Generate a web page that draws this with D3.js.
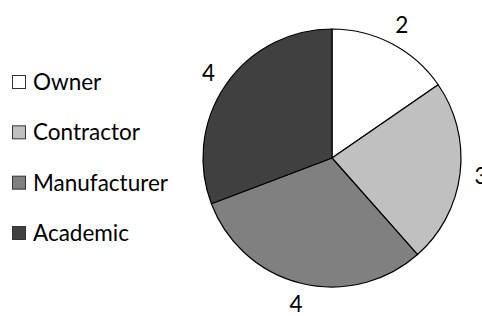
<!DOCTYPE html>
<html>
<head>
<meta charset="utf-8">
<script src="https://cdn.jsdelivr.net/npm/d3@7"></script>
<style>
  html, body { margin: 0; padding: 0; background: #fff; }
  svg { display: block; font-family: Lato, 'Open Sans', sans-serif; }
</style>
</head>
<body>
<svg class="pie" width="482" height="316"></svg>
<script>
// chart data
const categories = ['Owner', 'Contractor', 'Manufacturer', 'Academic'];
const values = [2, 3, 4, 4];
const shades = ['#ffffff', '#c0c0c0', '#808080', '#404040'];

const data = categories.map((c, i) => ({ name: c, value: values[i] }));

const svg = d3.select('.pie');

const cx = 332;
const cy = 158;
const radius = 129;

const color = d3.scaleOrdinal()
    .domain(categories)
    .range(shades);

const pie = d3.pie()
    .sort(null)
    .value(d => d.value);

const arc = d3.arc()
    .innerRadius(0)
    .outerRadius(radius);

// labels sit outside the pie
const labelArc = d3.arc()
    .innerRadius(radius + 21)
    .outerRadius(radius + 21);

const arcs = pie(data);

const g = svg.append('g')
    .attr('transform', `translate(${cx}, ${cy})`);

g.selectAll('path')
    .data(arcs)
    .join('path')
    .attr('d', arc)
    .attr('fill', d => color(d.data.name))
    .attr('stroke', '#000')
    .attr('stroke-width', 1.2)
    .attr('stroke-linejoin', 'round');

g.selectAll('text')
    .data(arcs)
    .join('text')
    .attr('transform', d => `translate(${labelArc.centroid(d)})`)
    .attr('text-anchor', 'middle')
    .attr('dy', '0.35em')
    .style('font-size', '22.5px')
    .attr('fill', '#000')
    .text(d => d.data.value);

// legend on the left
const legendY = d3.scalePoint()
    .domain(categories)
    .range([82, 233]);

const legend = svg.append('g')
    .selectAll('g')
    .data(categories)
    .join('g')
    .attr('transform', d => `translate(12, ${legendY(d)})`);

legend.append('rect')
    .attr('x', 0.5)
    .attr('y', -6.5)
    .attr('width', 13)
    .attr('height', 13)
    .attr('fill', d => color(d))
    .attr('stroke', '#333')
    .attr('stroke-width', 1);

legend.append('text')
    .attr('x', 21)
    .attr('dy', '0.36em')
    .style('font-size', '22.5px')
    .attr('fill', '#000')
    .text(d => d);
</script>
</body>
</html>
